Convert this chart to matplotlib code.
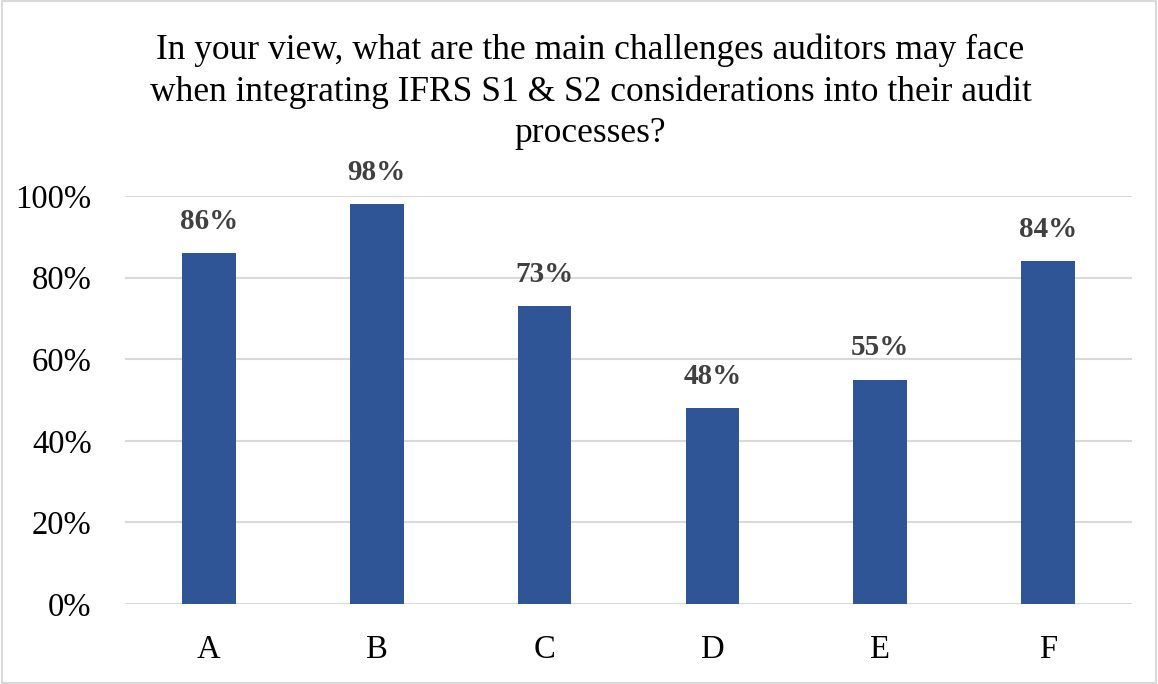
import matplotlib.pyplot as plt
from matplotlib.patches import Rectangle

categories = ["A", "B", "C", "D", "E", "F"]
values = [0.86, 0.98, 0.73, 0.48, 0.55, 0.84]
title_lines = ["In your view, what are the main challenges auditors may face",
               "when integrating IFRS S1 & S2 considerations into their audit",
               "processes?"]

plt.rcParams["font.family"] = ["Liberation Serif", "DejaVu Serif"]

fig = plt.figure(figsize=(11.58, 6.84), dpi=100)
ax = fig.add_axes([125 / 1158, 1 - 604 / 684, 1007 / 1158, 408 / 684])

x = range(len(categories))
ax.bar(x, values, width=0.32, color="#2F5597", zorder=3)
for xi, v in zip(x, values):
    ax.text(xi, v + 0.045, f"{round(v * 100)}%", ha="center", va="bottom",
            fontsize=21, fontweight="bold", color="#404040")

ax.set_xlim(-0.5, len(categories) - 0.5)
ax.set_ylim(0, 1.0)
ax.set_yticks([0, 0.2, 0.4, 0.6, 0.8, 1.0])
ax.set_yticklabels([f"{t}%" for t in range(0, 101, 20)])
ax.set_xticks(list(x))
ax.set_xticklabels(categories)
ax.tick_params(axis="both", length=0, labelsize=23.5, colors="#000000")
ax.tick_params(axis="y", pad=24)
ax.tick_params(axis="x", pad=22)
ax.grid(axis="y", color="#D9D9D9", linewidth=1.5, zorder=0)
ax.set_axisbelow(True)
for s in ax.spines.values():
    s.set_visible(False)

for i, line in enumerate(title_lines):
    fig.text(0.51, 1 - (50 + 42 * i) / 684, line, ha="center", va="center",
             fontsize=25.5)

fig.patches.append(Rectangle((0.002, 0.002), 0.996, 0.996, transform=fig.transFigure,
                             fill=False, edgecolor="#D9D9D9", linewidth=1.5))

fig.savefig("out.png", dpi=100)
